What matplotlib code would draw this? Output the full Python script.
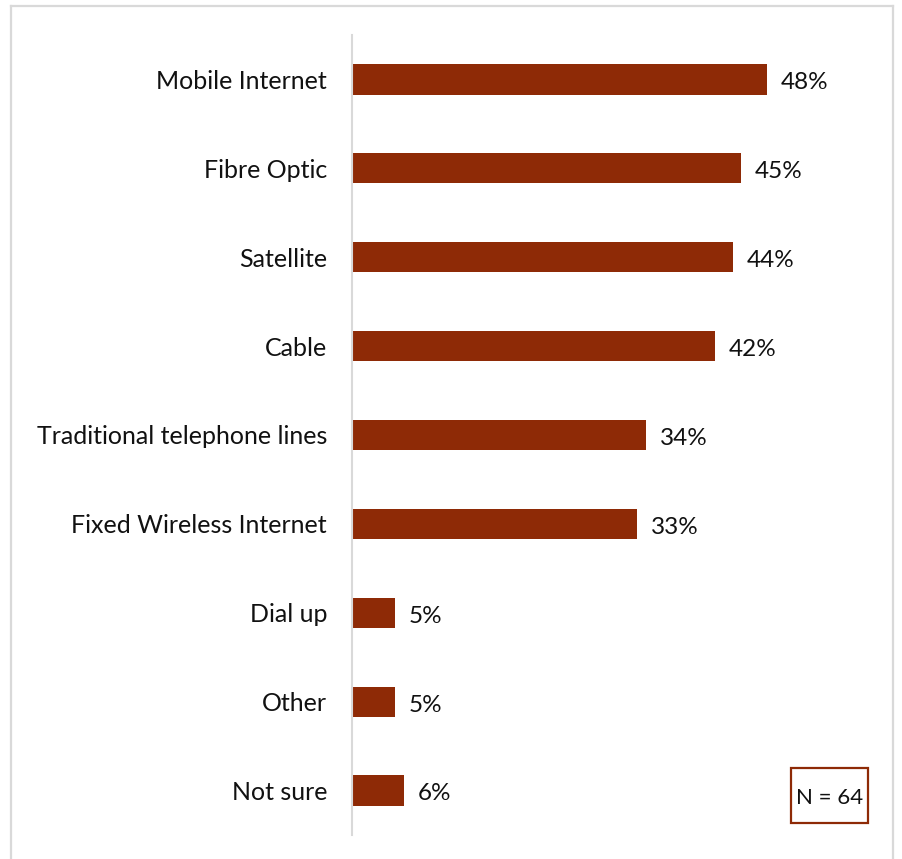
import matplotlib.pyplot as plt
from matplotlib.lines import Line2D
from matplotlib.patches import Rectangle

categories = ['Mobile Internet', 'Fibre Optic', 'Satellite', 'Cable',
              'Traditional telephone lines', 'Fixed Wireless Internet',
              'Dial up', 'Other', 'Not sure']
values = [48, 45, 44, 42, 34, 33, 5, 5, 6]
sample_note = 'N = 64'

bar_color = '#8E2A06'
plt.rcParams['font.family'] = ['Lato', 'DejaVu Sans']

W, H = 902, 859
fig = plt.figure(figsize=(W / 100, H / 100), dpi=100)
ax = fig.add_axes([352 / W, 24 / H, 519 / W, 800 / H])

pos = list(range(len(categories)))
ax.barh(pos, values, height=0.34, color=bar_color)
for y, v in zip(pos, values):
    ax.annotate(f'{v}%', (v, y), xytext=(10, -1), textcoords='offset points',
                va='center_baseline', ha='left', fontsize=17.5, color='#111111')

ax.set_xlim(0, 60)
ax.set_ylim(len(categories) - 0.5, -0.5)
ax.set_yticks(pos)
ax.set_yticklabels(categories, fontsize=18, color='#111111', va='center_baseline')
ax.tick_params(axis='y', length=0, pad=18)
ax.set_xticks([])
for side in ['top', 'right', 'bottom']:
    ax.spines[side].set_visible(False)
ax.spines['left'].set_color('#d9d9d9')
ax.spines['left'].set_linewidth(1.5)

# outer frame (open at the bottom)
fx0, fx1, fy1 = 11 / W, 893 / W, 1 - 6 / H
frame = dict(color='#d9d9d9', linewidth=1.6, transform=fig.transFigure)
fig.add_artist(Line2D([fx0, fx0], [0, fy1], **frame))
fig.add_artist(Line2D([fx0, fx1], [fy1, fy1], **frame))
fig.add_artist(Line2D([fx1, fx1], [fy1, 0], **frame))

# sample size box
bx0, bx1, by0, by1 = 791 / W, 868 / W, 1 - 823 / H, 1 - 768 / H
fig.add_artist(Rectangle((bx0, by0), bx1 - bx0, by1 - by0, fill=False,
                         edgecolor=bar_color, linewidth=1.6, transform=fig.transFigure))
fig.text((bx0 + bx1) / 2, (by0 + by1) / 2, sample_note, ha='center',
         va='center_baseline', fontsize=16, color='#111111')

fig.savefig('out.png', dpi=100, facecolor='white')
